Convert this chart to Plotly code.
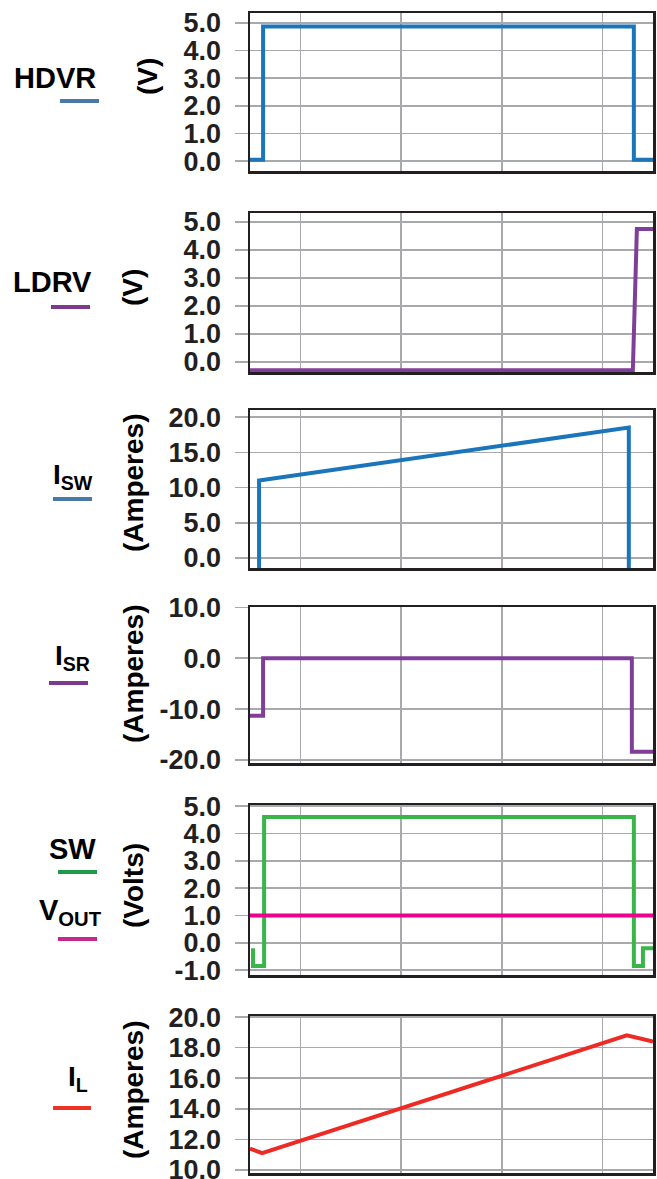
import plotly.graph_objects as go

# ---------------- data (time in arbitrary units, 0..4) ----------------
t_hdvr = [0, 0.13, 0.13, 3.81, 3.81, 4.0]
v_hdvr = [0.05, 0.05, 4.87, 4.87, 0.05, 0.05]

t_ldrv = [0, 3.80, 3.84, 4.0]
v_ldrv = [-0.3, -0.3, 4.75, 4.75]

t_isw = [0.09, 0.09, 3.76, 3.76]
i_sw = [-2.0, 11.0, 18.5, -2.0]

t_isr = [0, 0.13, 0.13, 3.79, 3.79, 4.0]
i_sr = [-11.3, -11.3, 0.0, 0.0, -18.4, -18.4]

t_sw = [0.03, 0.03, 0.14, 0.14, 3.81, 3.81, 3.90, 3.90, 4.0]
v_sw = [-0.2, -0.85, -0.85, 4.6, 4.6, -0.85, -0.85, -0.2, -0.2]

t_vout = [0, 4.0]
v_vout = [1.0, 1.0]

t_il = [0, 0.12, 3.74, 4.0]
i_l = [11.4, 11.1, 18.8, 18.4]

grid_t = [0.5, 1.5, 2.5, 3.5]

ticks_v = [0, 1, 2, 3, 4, 5]
ticks_v_txt = ["0.0", "1.0", "2.0", "3.0", "4.0", "5.0"]
ticks_isw = [0, 5, 10, 15, 20]
ticks_isw_txt = ["0.0", "5.0", "10.0", "15.0", "20.0"]
ticks_isr = [-20, -10, 0, 10]
ticks_isr_txt = ["-20.0", "-10.0", "0.0", "10.0"]
ticks_sw = [-1, 0, 1, 2, 3, 4, 5]
ticks_sw_txt = ["-1.0", "0.0", "1.0", "2.0", "3.0", "4.0", "5.0"]
ticks_il = [10, 12, 14, 16, 18, 20]
ticks_il_txt = ["10.0", "12.0", "14.0", "16.0", "18.0", "20.0"]

# ---------------- styling ----------------
W, H = 657, 1179
BLUE = "#1B75BB"
PURPLE = "#7F3F98"
GREEN = "#39B54A"
MAGENTA = "#EC008C"
RED = "#EE2A24"
GRID = "#A7A9AC"
BOX = "#231F20"
FONT = "Liberation Sans"


def fx(p):
    return p / W


def fy(p):
    return 1 - p / H


boxes = [(13, 171), (213, 372), (410, 568), (607, 763), (805, 975), (1016, 1173)]
yranges = [[-0.36, 5.36], [-0.36, 5.32], [-1.42, 21.0], [-20.6, 10.05], [-1.18, 5.04], [9.8, 20.07]]
tvals = [ticks_v, ticks_v, ticks_isw, ticks_isr, ticks_sw, ticks_il]
ttxt = [ticks_v_txt, ticks_v_txt, ticks_isw_txt, ticks_isr_txt, ticks_sw_txt, ticks_il_txt]

series = [
    (1, t_hdvr, v_hdvr, BLUE),
    (2, t_ldrv, v_ldrv, PURPLE),
    (3, t_isw, i_sw, BLUE),
    (4, t_isr, i_sr, PURPLE),
    (5, t_sw, v_sw, GREEN),
    (5, t_vout, v_vout, MAGENTA),
    (6, t_il, i_l, RED),
]

fig = go.Figure()
for k, xs, ys, col in series:
    sfx = "" if k == 1 else str(k)
    fig.add_trace(go.Scatter(x=xs, y=ys, mode="lines", line=dict(color=col, width=4),
                             xaxis="x" + sfx, yaxis="y" + sfx, showlegend=False, hoverinfo="skip"))

layout = dict(
    width=W, height=H, margin=dict(l=0, r=0, t=0, b=0),
    paper_bgcolor="white", plot_bgcolor="white", template="none", showlegend=False,
)
for i in range(6):
    k = i + 1
    sfx = "" if k == 1 else str(k)
    top, bot = boxes[i]
    layout["xaxis" + sfx] = dict(
        domain=[fx(250), fx(653)], range=[0, 4], anchor="y" + sfx,
        tickmode="array", tickvals=grid_t, showticklabels=False, ticks="",
        showgrid=True, gridcolor=GRID, gridwidth=1.5, zeroline=False,
        showline=True, mirror=True, linecolor=BOX, linewidth=2.5, automargin=False,
    )
    layout["yaxis" + sfx] = dict(
        domain=[fy(bot), fy(top)], range=yranges[i], anchor="x" + sfx,
        tickmode="array", tickvals=tvals[i], ticktext=ttxt[i],
        ticks="outside", ticklen=13, tickcolor=GRID, tickwidth=1.5,
        showgrid=True, gridcolor=GRID, gridwidth=1.5, zeroline=False,
        showline=True, mirror=True, linecolor=BOX, linewidth=2.5, automargin=False,
        tickfont=dict(family=FONT, size=27, color=BOX, weight="bold"),
        ticklabelstandoff=8, ticklabeloverflow="allow",
    )
fig.update_layout(**layout)

annotations = []


def ann(x, y, text, size=27, angle=0):
    annotations.append(dict(
        x=fx(x), y=fy(y), xref="paper", yref="paper", text=text, showarrow=False,
        xanchor="center", yanchor="middle", textangle=angle,
        font=dict(family=FONT, size=size, color="#000000", weight="bold"),
    ))


# left labels
ann(55, 78, "HDVR", 29)
ann(52, 282, "LDRV", 29)
ann(73, 476, "I<sub>SW</sub>", 28)
ann(72, 657, "I<sub>SR</sub>", 28)
ann(72, 849, "SW", 29)
ann(70, 912, "V<sub>OUT</sub>", 29)
ann(78, 1078, "I<sub>L</sub>", 28)

# axis titles
ann(148, 77, "(V)", 28, -90)
ann(133, 288, "(V)", 28, -90)
ann(133, 483, "(Amperes)", 28, -90)
ann(133, 674, "(Amperes)", 28, -90)
ann(133, 886, "(Volts)", 28, -90)
ann(133, 1090, "(Amperes)", 28, -90)

fig.update_layout(annotations=annotations)

# legend swatches
swatches = [
    (60, 99, 101, "#4A78A8"),
    (51, 90, 307, "#7B3A8E"),
    (53, 92, 499, "#4A78A8"),
    (49, 88, 683, "#7B3A8E"),
    (58, 97, 872, "#1F9A48"),
    (58, 97, 939, "#C4288E"),
    (53, 91, 1108, "#EE3224"),
]
for x0, x1, y, col in swatches:
    fig.add_shape(type="line", xref="paper", yref="paper",
                  x0=fx(x0), x1=fx(x1), y0=fy(y), y1=fy(y),
                  line=dict(color=col, width=4))

fig.write_html("out.html", config={"displayModeBar": False, "staticPlot": True},
               post_script="document.body.style.margin='0';document.body.style.overflow='hidden';")
